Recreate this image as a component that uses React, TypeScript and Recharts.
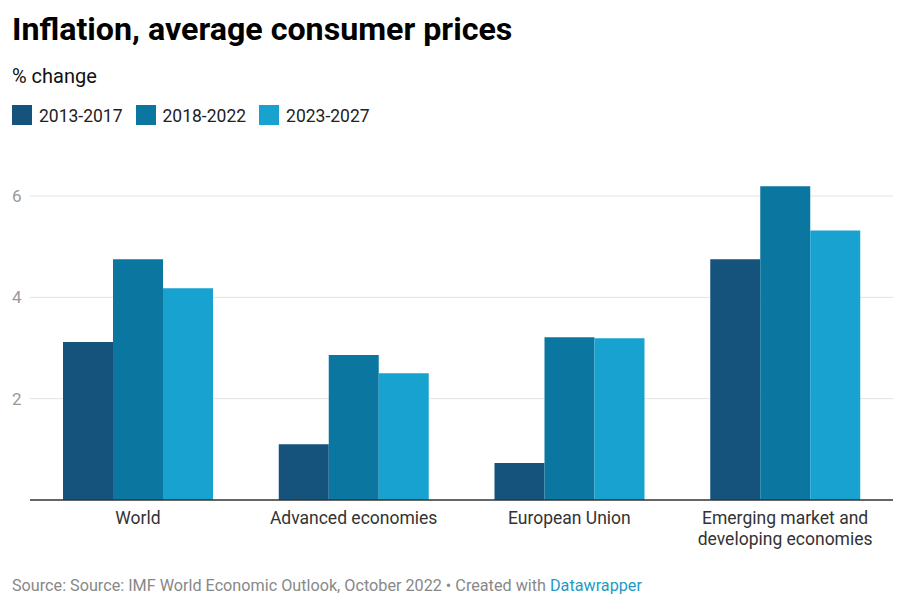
import React from "react";
import { BarChart, Bar, XAxis, YAxis, CartesianGrid } from "recharts";

const categories = [
    "World",
    "Advanced economies",
    "European Union",
    "Emerging market and developing economies",
];
const tickLines: string[][] = [
    ["World"],
    ["Advanced economies"],
    ["European Union"],
    ["Emerging market and", "developing economies"],
];
const series2013 = [3.12, 1.1, 0.73, 4.75];
const series2018 = [4.75, 2.86, 3.21, 6.19];
const series2023 = [4.18, 2.5, 3.19, 5.32];
const yTicks = [2, 4, 6];
const yMax = 7;

const colors = {
    a: "#15527c",
    b: "#0b77a0",
    c: "#18a2cf",
};

const legendItems = [
    { label: "2013-2017", color: colors.a },
    { label: "2018-2022", color: colors.b },
    { label: "2023-2027", color: colors.c },
];

const data = categories.map((name, i) => ({
    name,
    a: series2013[i],
    b: series2018[i],
    c: series2023[i],
}));

const font = "Roboto, 'Noto Sans', sans-serif";

function XTick(props: any) {
    const { x, y, index } = props;
    const lines = tickLines[index] || [];
    return (
        <text
            x={x}
            y={y}
            textAnchor="middle"
            fill="#333"
            fontSize={17.5}
            fontFamily={font}
        >
            {lines.map((l, i) => (
                <tspan key={i} x={x} dy={i === 0 ? 16 : 20.5}>
                    {l}
                </tspan>
            ))}
        </text>
    );
}

function YTick(props: any) {
    const { y, payload } = props;
    return (
        <text
            x={12}
            y={y}
            dy={6}
            textAnchor="start"
            fill="#999"
            fontSize={17}
            fontFamily={font}
        >
            {payload.value}
        </text>
    );
}

// grid only at the labelled ticks (no line at the top of the plot)
const gridRows = ({ offset }: any) =>
    yTicks.map((t) => offset.top + offset.height * (1 - t / yMax));

export default function App() {
    return (
        <div
            style={{
                position: "absolute",
                left: 0,
                top: 0,
                width: 903,
                height: 610,
                background: "#fff",
                fontFamily: font,
            }}
        >
            <BarChart
                width={903}
                height={610}
                data={data}
                barCategoryGap={33}
                barGap={0}
                margin={{ top: 145.33, right: 10, bottom: 50, left: 0 }}
                style={{ position: "absolute", left: 0, top: 0 }}
            >
                <CartesianGrid
                    vertical={false}
                    stroke="#e3e3e3"
                    strokeWidth={1}
                    horizontalCoordinatesGenerator={gridRows}
                />
                <XAxis
                    dataKey="name"
                    height={60}
                    tickLine={false}
                    axisLine={{ stroke: "#333", strokeWidth: 1.5 }}
                    tick={<XTick />}
                    interval={0}
                />
                <YAxis
                    width={30}
                    domain={[0, yMax]}
                    ticks={yTicks}
                    axisLine={false}
                    tickLine={false}
                    tick={<YTick />}
                />
                <Bar dataKey="a" fill={colors.a} isAnimationActive={false} />
                <Bar dataKey="b" fill={colors.b} isAnimationActive={false} />
                <Bar dataKey="c" fill={colors.c} isAnimationActive={false} />
            </BarChart>
            <div
                style={{
                    position: "absolute",
                    left: 12,
                    top: 10,
                    fontSize: 32.2,
                    fontWeight: 700,
                    color: "#000",
                    whiteSpace: "nowrap",
                }}
            >
                Inflation, average consumer prices
            </div>
            <div
                style={{
                    position: "absolute",
                    left: 12,
                    top: 64,
                    fontSize: 20,
                    color: "#111",
                }}
            >
                % change
            </div>
            <div
                style={{
                    position: "absolute",
                    left: 12,
                    top: 105,
                    display: "flex",
                    alignItems: "center",
                    fontSize: 17.5,
                    color: "#222",
                }}
            >
                {legendItems.map((it) => (
                    <div
                        key={it.label}
                        style={{
                            display: "flex",
                            alignItems: "center",
                            marginRight: 13,
                        }}
                    >
                        <span
                            style={{
                                width: 20,
                                height: 20,
                                background: it.color,
                                display: "inline-block",
                                marginRight: 7,
                            }}
                        />
                        <span style={{ position: "relative", top: 1 }}>
                            {it.label}
                        </span>
                    </div>
                ))}
            </div>
            <div
                style={{
                    position: "absolute",
                    left: 12,
                    top: 576,
                    fontSize: 16.2,
                    color: "#888",
                    whiteSpace: "nowrap",
                }}
            >
                Source: Source: IMF World Economic Outlook, October 2022 • Created
                with <span style={{ color: "#1d9bc5" }}>Datawrapper</span>
            </div>
        </div>
    );
}
